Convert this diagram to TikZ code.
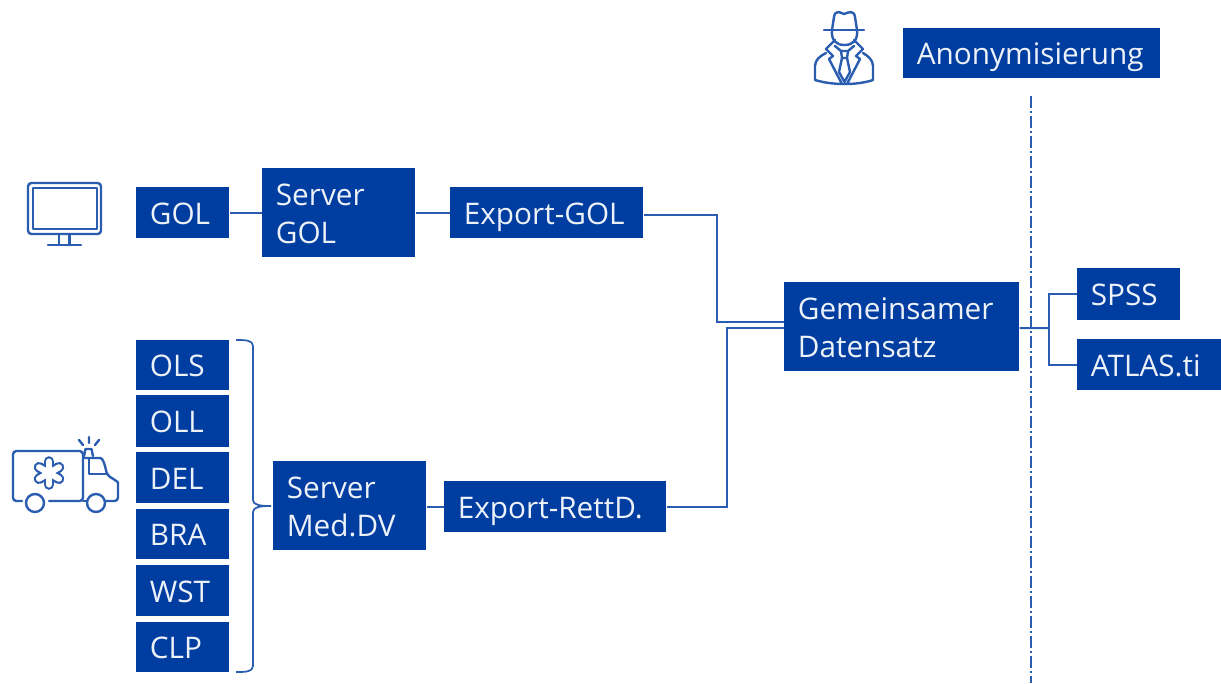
\documentclass[tikz,border=0pt]{standalone}
\usepackage{fontspec}
\setmainfont{Open Sans}
\definecolor{boxblue}{HTML}{003DA1}
\definecolor{lineblue}{HTML}{2A5CB0}
\tikzset{
  box/.style 2 args={draw=none,fill=boxblue,text=white!93!boxblue,anchor=north west,inner xsep=10.2pt,inner ysep=0pt,
    minimum height=#2*0.75pt,text width=(#1-27)*0.75pt,align=left,
    font=\fontsize{22.3}{28.5}\selectfont,execute at begin node={\rule{0pt}{25.6pt}},execute at end node=\strut},
  conn/.style={draw=lineblue,line width=1.5pt,line join=miter},
  icon/.style={draw=lineblue,line width=1.8pt,line join=round,line cap=round},
}
\begin{document}
\begin{tikzpicture}[x=0.75pt,y=-0.75pt]
\useasboundingbox (0,0) rectangle (1221,683);
\node[box={257}{50}] (anon) at (903,28) {Anonymisierung};
\node[box={93}{51}] (gol) at (136,187) {GOL};
\node[box={153}{89}] (sgol) at (262,168) {Server\\GOL};
\node[box={193}{51}] (egol) at (450,187) {Export-GOL};
\node[box={235}{89}] (ds) at (784,282) {Gemeinsamer\\Datensatz};
\node[box={103}{52}] (spss) at (1077,268) {SPSS};
\node[box={144}{51}] (atlas) at (1077,339) {ATLAS.ti};
\node[box={93}{50}] (ols) at (136,340) {OLS};
\node[box={93}{52}] (oll) at (136,395) {OLL};
\node[box={93}{51}] (del) at (136,452) {DEL};
\node[box={93}{50}] (bra) at (136,509) {BRA};
\node[box={93}{51}] (wst) at (136,565) {WST};
\node[box={93}{50}] (clp) at (136,622) {CLP};
\node[box={153}{89}] (smed) at (273,461) {Server\\Med.DV};
\node[box={222}{51}] (erett) at (444,481) {Export-RettD.};
% links
\draw[conn] (gol.east) -- (sgol.west);
\draw[conn] (sgol.east) -- (egol.west);
\draw[conn] ([yshift=-1.9pt]egol.east) -- ++(73,0) |- ([yshift=3.4pt]ds.west);
\draw[conn] (erett.west -| smed.east) -- (erett.west);
\draw[conn] (erett.east) -- ++(60,0) |- ([yshift=-1.1pt]ds.west);
\coordinate (fork) at (1049,328);
\draw[conn] ([yshift=-1.1pt]ds.east) -- (fork);
\draw[conn] (spss.west) -| (fork) |- (atlas.west);
% anonymisation line
\coordinate (lt) at (1031,96);
\coordinate (lb) at (1031,683);
\draw[draw=lineblue,line width=1pt,dash pattern=on 9pt off 2.5pt on 1pt off 2.5pt] (lt) -- (lb);
% brace
\draw[conn,line width=1.3pt] (236,340) .. controls (245,340) and (253,340) .. (253,346) -- (253,500) .. controls (253,505) and (260,506) .. (271,506) .. controls (260,506) and (253,507) .. (253,512) -- (253,666) .. controls (253,672) and (245,672) .. (236,672);
% monitor
\draw[icon,rounded corners=2.5pt] (28,183) rectangle (101,234);
\draw[icon] (33,188) rectangle (97,229);
\draw[icon] (59,234) -- (59,245) (69.5,234) -- (69.5,245) (48,245) -- (81,245);
% ambulance
\draw[icon,rounded corners=2.5pt] (22,501) -- (13,501) -- (13,451) -- (83,451) -- (83,501) -- (49,501);
\draw[icon] (35,503) circle[radius=9] (96,503) circle[radius=9];
\draw[icon] (83,501) -- (86,501);
\draw[icon,rounded corners=2.5pt] (106,501) -- (118,501) -- (118,486) .. controls (118,482) and (115,480) .. (107,475) .. controls (105,465) and (103,458) .. (97,458) -- (83,458);
\draw[icon] (89,458) -- (89,474) -- (107,474);
\draw[icon] (84,456) -- (85.5,449) -- (91.5,449) -- (93,456);
\draw[icon] (89,437) -- (89,443) (79,440) -- (83,445) (99,440) -- (95,445);
\begin{scope}[shift={(49,473)}]
\foreach \a in {90,30,-30} \draw[line width=8pt,line cap=round,lineblue] (\a:11.5) -- (\a+180:11.5);
\foreach \a in {90,30,-30} \draw[line width=4.6pt,line cap=round,white] (\a:11.5) -- (\a+180:11.5);
\end{scope}
% detective
\draw[icon] (824,30) -- (864,30);
\draw[icon] (832,30) -- (834,17) .. controls (835,10) and (840,12) .. (844,14) .. controls (849,12) and (854,10) .. (855,17) -- (857,30);
\draw[icon] (832,30) .. controls (831,40) and (836,45) .. (844.5,45) .. controls (853,45) and (858,40) .. (857,30);
\draw[icon] (835,40) -- (826,49) -- (833,56) -- (829,59) -- (842,84);
\draw[icon] (854,40) -- (863,49) -- (856,56) -- (860,59) -- (847,84);
\draw[icon] (826,53) .. controls (820,56) and (815,60) .. (815,66) -- (815,80) .. controls (825,83) and (835,84) .. (844.5,84) .. controls (854,84) and (864,83) .. (873,80) -- (873,66) .. controls (873,60) and (868,56) .. (863,53);
\draw[icon] (835,46) -- (841,51) -- (848,51) -- (854,46);
\draw[icon] (841,51) -- (842,58) -- (847,58) -- (848,51);
\draw[icon] (842,58) -- (839,72) -- (844.5,82) -- (850,72) -- (847,58);
\end{tikzpicture}
\end{document}
